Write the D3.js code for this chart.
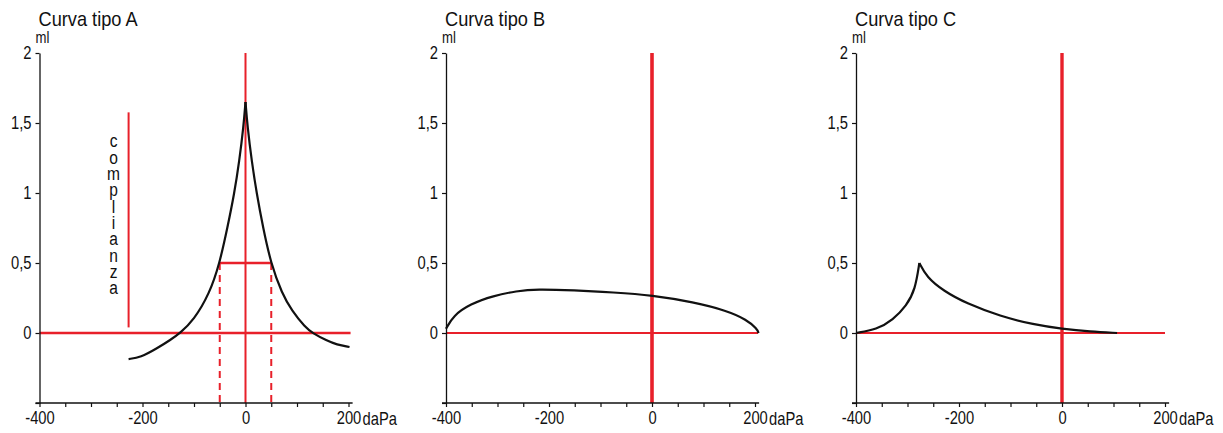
<!DOCTYPE html>
<html>

<head>
    <meta charset="utf-8">
    <script src="https://d3js.org/d3.v7.min.js"></script>
    <title>curve timpanometriche</title>
    <style>
        body {
            margin: 0;
            background: #fff;
        }

        text {
            font-family: "Liberation Sans", Arial, sans-serif;
            fill: #111;
        }
    </style>
</head>

<body>
    <svg id="chart" width="1223" height="433"></svg>

    <script>
        // values (daPa / ml)
        const panelTitles = ["Curva tipo A", "Curva tipo B", "Curva tipo C"];

        const curveAX = [-227, -204, -172, -146, -127, -101, -70, -50, -35, -22, -12, -4, 0, 4, 12, 22, 34, 49, 71, 90, 116, 130, 158, 177, 202];
        const curveAY = [-0.186, -0.175, -0.11, -0.05, 0, 0.09, 0.28, 0.5, 0.755, 0.99, 1.23, 1.47, 1.65, 1.47, 1.23, 0.99, 0.755, 0.5, 0.28, 0.16, 0.04, 0, -0.055, -0.083, -0.1];

        const curveBX = [-400, -386, -353, -308, -263, -224, -152, -75, 0, 81, 145, 184, 204, 207];
        const curveBY = [0.03, 0.124, 0.207, 0.266, 0.3, 0.314, 0.305, 0.29, 0.27, 0.22, 0.16, 0.095, 0.03, 0];

        const curveCX = [-400, -360, -328, -302, -285, -277, -263, -230, -185, -120, -55, 0, 55, 107];
        const curveCY = [0, 0.024, 0.095, 0.195, 0.31, 0.5, 0.4, 0.3, 0.21, 0.12, 0.06, 0.03, 0.01, 0];

        const xTickValues = [-400, -350, -300, -250, -200, -150, -100, -50, 0, 50, 100, 150, 200];
        const xTickLabels = [-400, -200, 0, 200];
        const yTickValues = [-0.5, 0, 0.5, 1, 1.5, 2];
        const yTickLabels = [0, 0.5, 1, 1.5, 2];

        // compliance marker of panel A
        const complianceX = -227;
        const complianceY = [0.04, 1.576];
        const complianceText = "complianza";
        const halfHeight = 0.5;
        const halfWidthX = [-50, 50];

        const svg = d3.select("#chart");
        const red = "#e8202a";
        const narrow = 0.82; // squeeze Liberation Sans into a condensed look

        const itFormat = d3.formatLocale({ decimal: ",", thousands: ".", grouping: [3], currency: ["", "€"] }).format("~g");

        const x = d3.scaleLinear().domain([-400, 200]).range([0, 309]);
        const y = d3.scaleLinear().domain([-0.5, 2]).range([403, 53]);

        function label(g, px, py, size, txt, sx = narrow) {
            return g.append("text")
                .attr("transform", `translate(${px},${py}) scale(${sx},1)`)
                .attr("font-size", size)
                .text(txt);
        }

        // draws one curve, split at its peak so the cusp stays sharp
        function drawCurve(g, xs, ys, cusp) {
            const idx = d3.range(xs.length);
            const line = d3.line()
                .x(i => x(xs[i]))
                .y(i => y(ys[i]))
                .curve(d3.curveBasis);
            const parts = [];
            if (cusp) {
                const k = d3.maxIndex(ys);
                parts.push(idx.slice(0, k + 1), idx.slice(k));
            } else {
                parts.push(idx);
            }
            g.selectAll("path.curve")
                .data(parts)
                .join("path")
                .attr("class", "curve")
                .attr("d", line)
                .attr("fill", "none")
                .attr("stroke", "#111")
                .attr("stroke-width", 2.2)
                .attr("stroke-linejoin", "round");
        }

        function drawPanel(left, title, opts) {
            const g = svg.append("g").attr("transform", `translate(${left},0)`);

            label(g, -1, 26, 20, title, 0.91);
            label(g, -4, 43, 16, "ml");

            // red reference lines
            g.append("line")
                .attr("x1", x(-400)).attr("x2", x(opts.zeroEnd))
                .attr("y1", y(0)).attr("y2", y(0))
                .attr("stroke", red).attr("stroke-width", opts.zeroWidth);

            g.append("line")
                .attr("x1", x(0)).attr("x2", x(0))
                .attr("y1", y(2)).attr("y2", y(-0.5))
                .attr("stroke", red).attr("stroke-width", opts.vertWidth);

            // y axis
            const yAxis = g.append("g")
                .call(d3.axisLeft(y)
                    .tickValues(yTickValues)
                    .tickSize(4)
                    .tickSizeOuter(0)
                    .tickFormat(d => yTickLabels.includes(d) ? itFormat(d) : ""));
            yAxis.select(".domain").attr("stroke", "#111").attr("stroke-width", 1.3);
            yAxis.selectAll(".tick line").attr("stroke", "#111").attr("stroke-width", 1.2);
            yAxis.selectAll(".tick text")
                .attr("x", -8 / narrow)
                .attr("transform", `scale(${narrow},1)`)
                .attr("font-size", 18)
                .attr("font-family", null);

            // x axis
            const xAxis = g.append("g")
                .attr("transform", `translate(0,${y(-0.5)})`)
                .call(d3.axisBottom(x)
                    .tickValues(xTickValues)
                    .tickSize(4)
                    .tickSizeOuter(0)
                    .tickFormat(d => xTickLabels.includes(d) ? d : ""));
            xAxis.select(".domain").remove();
            xAxis.append("line")
                .attr("x1", -4).attr("x2", x(208))
                .attr("stroke", "#111").attr("stroke-width", 1.3);
            xAxis.selectAll(".tick line").attr("stroke", "#111").attr("stroke-width", 1.2);
            xAxis.selectAll(".tick text")
                .attr("y", 8)
                .attr("transform", `scale(${narrow},1)`)
                .attr("font-size", 18)
                .attr("font-family", null);

            label(g, x(200) + 14, y(-0.5) + 22, 18, "daPa");

            return g;
        }

        // panel A
        const gA = drawPanel(39.5, panelTitles[0], { zeroEnd: 204, zeroWidth: 2.6, vertWidth: 2 });

        gA.append("line")
            .attr("x1", x(complianceX)).attr("x2", x(complianceX))
            .attr("y1", y(complianceY[0])).attr("y2", y(complianceY[1]))
            .attr("stroke", red).attr("stroke-width", 2);

        // vertical word, letters stacked upright in one text element
        gA.append("text")
            .attr("transform", `translate(${x(complianceX) - 15},130) scale(${narrow},1)`)
            .style("writing-mode", "vertical-rl")
            .style("text-orientation", "upright")
            .attr("letter-spacing", -5.55)
            .attr("font-size", 19)
            .text(complianceText);

        gA.selectAll("line.dash")
            .data(halfWidthX)
            .join("line")
            .attr("class", "dash")
            .attr("x1", d => x(d)).attr("x2", d => x(d))
            .attr("y1", y(halfHeight)).attr("y2", y(-0.5))
            .attr("stroke", red).attr("stroke-width", 2)
            .attr("stroke-dasharray", "7,5");

        gA.append("line")
            .attr("x1", x(halfWidthX[0])).attr("x2", x(halfWidthX[1]))
            .attr("y1", y(halfHeight)).attr("y2", y(halfHeight))
            .attr("stroke", red).attr("stroke-width", 2.4);

        drawCurve(gA, curveAX, curveAY, true);

        // panel B
        const gB = drawPanel(446, panelTitles[1], { zeroEnd: 206, zeroWidth: 2, vertWidth: 3.6 });
        drawCurve(gB, curveBX, curveBY, false);

        // panel C
        const gC = drawPanel(856, panelTitles[2], { zeroEnd: 200, zeroWidth: 2.2, vertWidth: 3.4 });
        drawCurve(gC, curveCX, curveCY, true);
    </script>

</body>

</html>
